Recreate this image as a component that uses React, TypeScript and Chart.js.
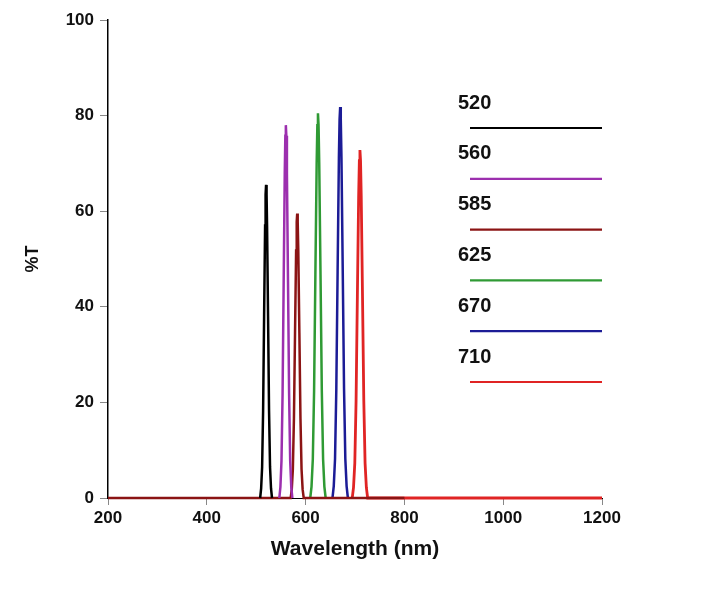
import React, { useEffect, useRef } from "react";
import { Chart, registerables } from "chart.js";

Chart.register(...registerables);

// Legend labels (filter centre wavelengths) and colours
const filterLabels = ["520", "560", "585", "625", "670", "710"];
const filterColors = ["#000000", "#9c2fae", "#8b1414", "#2f9a34", "#1c1c96", "#e02424"];

// Wavelength (nm) and %T for each filter curve
const wl520 = [508, 510, 512, 514, 516, 518, 519, 520, 521, 522, 524, 526, 528, 530, 532];
const t520 = [0, 2.0, 6.5, 18.3, 38.0, 57.0, 63.5, 65.5, 63.5, 57.0, 38.0, 18.3, 6.5, 2.0, 0];

const wl560 = [546.8, 549, 551.2, 553.4, 555.6, 557.8, 559, 560, 561, 562.2, 564.4, 566.6, 568.8, 571, 573.2];
const t560 = [0, 2.3, 7.8, 21.8, 45.2, 67.9, 75.8, 78.0, 75.8, 67.9, 45.2, 21.8, 7.8, 2.3, 0];

const wl585 = [200, 569.8, 572, 574.2, 576.4, 578.6, 580.8, 582, 583, 584, 585.2, 587.4, 589.6, 591.8, 594, 596.2, 800];
const t585 = [0, 0, 1.8, 6.0, 16.7, 34.5, 51.8, 57.8, 59.5, 57.8, 51.8, 34.5, 16.7, 6.0, 1.8, 0, 0];

const wl625 = [609.4, 612, 614.6, 617.2, 619.8, 622.4, 623.8, 625, 626.2, 627.6, 630.2, 632.8, 635.4, 638, 640.6];
const t625 = [0, 2.4, 8.1, 22.5, 46.7, 70.0, 78.0, 80.5, 78.0, 70.0, 46.7, 22.5, 8.1, 2.4, 0];

const wl670 = [654.4, 657, 659.6, 662.2, 664.8, 667.4, 668.8, 670, 671.2, 672.6, 675.2, 677.8, 680.4, 683, 685.6];
const t670 = [0, 2.5, 8.2, 22.9, 47.4, 71.2, 79.3, 81.8, 79.3, 71.2, 47.4, 22.9, 8.2, 2.5, 0];

const wl710 = [694.4, 697, 699.6, 702.2, 704.8, 707.4, 708.8, 710, 711.2, 712.6, 715.2, 717.8, 720.4, 723, 725.6, 800, 1200];
const t710 = [0, 2.2, 7.3, 20.4, 42.2, 63.3, 70.6, 72.8, 70.6, 63.3, 42.2, 20.4, 7.3, 2.2, 0, 0, 0];

const wavelengths = [wl520, wl560, wl585, wl625, wl670, wl710];
const transmissions = [t520, t560, t585, t625, t670, t710];

// Axis ticks
const xTicks = [200, 400, 600, 800, 1000, 1200];
const yTicks = [0, 20, 40, 60, 80, 100];

const FONT = "Arial, 'Liberation Sans', Helvetica, sans-serif";

const legendPlugin = {
  id: "filterLegend",
  afterDraw(chart: any) {
    const { ctx, chartArea } = chart;
    const right = chartArea.right;
    ctx.save();
    filterLabels.forEach((lab, i) => {
      const lineY = chartArea.top + 108 + i * 50.8;
      ctx.strokeStyle = filterColors[i];
      ctx.lineWidth = 2.2;
      ctx.beginPath();
      ctx.moveTo(right - 132, lineY);
      ctx.lineTo(right, lineY);
      ctx.stroke();
      ctx.fillStyle = "#111";
      ctx.font = `bold 20px ${FONT}`;
      ctx.textAlign = "left";
      ctx.textBaseline = "middle";
      ctx.fillText(lab, right - 144, lineY - 25);
    });
    ctx.restore();
  },
};

export default function App() {
  const ref = useRef<HTMLCanvasElement | null>(null);

  useEffect(() => {
    if (!ref.current) return;
    const datasets = filterLabels.map((lab, i) => ({
      label: lab,
      data: wavelengths[i].map((w, j) => ({ x: w, y: transmissions[i][j] })),
      borderColor: filterColors[i],
      backgroundColor: filterColors[i],
      borderWidth: i === 5 ? 2.8 : 2.5,
      pointRadius: 0,
      tension: 0,
      fill: false,
      clip: false,
    }));
    const chart = new Chart(ref.current, {
      type: "line",
      data: { datasets },
      plugins: [legendPlugin],
      options: {
        animation: false,
        responsive: false,
        maintainAspectRatio: false,
        layout: { padding: { left: 0, right: 99, top: 20, bottom: 0 } },
        plugins: { legend: { display: false }, tooltip: { enabled: false } },
        scales: {
          x: {
            type: "linear",
            min: 200,
            max: 1200,
            afterBuildTicks: (s: any) => {
              s.ticks = xTicks.map((v) => ({ value: v }));
            },
            ticks: {
              color: "#111",
              font: { family: FONT, size: 17, weight: "bold" },
              padding: 3,
              maxRotation: 0,
              autoSkip: false,
              callback: (v: any) => String(v),
            },
            grid: { drawOnChartArea: false, drawTicks: true, tickLength: 7, color: "#888" },
            border: { color: "#000", width: 1 },
            title: {
              display: true,
              text: "Wavelength (nm)",
              color: "#111",
              font: { family: FONT, size: 21, weight: "bold" },
              padding: { top: 0, bottom: 31 },
            },
            afterFit: (s: any) => {
              s.height = 95;
            },
          },
          y: {
            type: "linear",
            min: 0,
            max: 100,
            afterBuildTicks: (s: any) => {
              s.ticks = yTicks.map((v) => ({ value: v }));
            },
            ticks: {
              color: "#111",
              font: { family: FONT, size: 17, weight: "bold" },
              padding: 6,
              callback: (v: any) => String(v),
            },
            grid: { drawOnChartArea: false, drawTicks: true, tickLength: 8, color: "#888" },
            border: { color: "#000", width: 1.5 },
            title: {
              display: true,
              text: "%T",
              color: "#111",
              font: { family: FONT, size: 18, weight: "bold" },
              padding: { top: 22, bottom: 0 },
            },
            afterFit: (s: any) => {
              s.width = 108;
            },
          },
        },
      } as any,
    });
    return () => chart.destroy();
  }, []);

  return (
    <div style={{ position: "absolute", left: 0, top: 0, width: 701, height: 593, background: "#fff" }}>
      <canvas ref={ref} width={701} height={593} />
    </div>
  );
}
